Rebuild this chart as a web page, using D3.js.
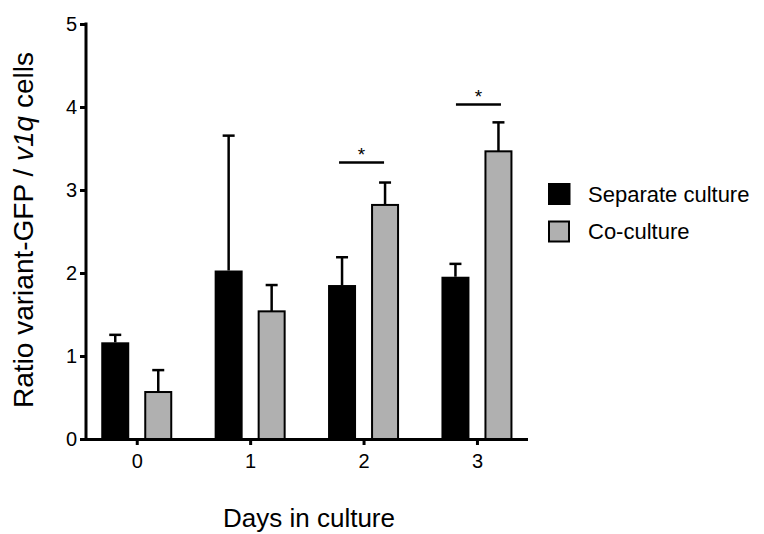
<!DOCTYPE html>
<html>
<head>
<meta charset="utf-8">
<script src="https://cdn.jsdelivr.net/npm/d3@7"></script>
<style>
  html, body { margin: 0; padding: 0; background: #fff; }
  svg { display: block; font-family: "Liberation Sans", Arial, sans-serif; }
</style>
</head>
<body>
<svg id="chart" width="764" height="534"></svg>
<script>
// ---- data ----
const days = ["0", "1", "2", "3"];
const seriesNames = ["Separate culture", "Co-culture"];
const separateValues = [1.165, 2.03, 1.855, 1.955];
const separateErrors = [0.09, 1.625, 0.335, 0.155];
const coValues = [0.566, 1.538, 2.82, 3.466];
const coErrors = [0.264, 0.317, 0.27, 0.349];
const yTicks = [0, 1, 2, 3, 4, 5];
const sigDays = ["2", "3"];
const sigLevels = [3.33, 4.03];
const sigLabels = ["*", "*"];

const colors = { "Separate culture": "#000000", "Co-culture": "#b0b0b0" };

// ---- build rows ----
const rows = [];
days.forEach((d, i) => {
  rows.push({ day: d, series: seriesNames[0], value: separateValues[i], err: separateErrors[i] });
  rows.push({ day: d, series: seriesNames[1], value: coValues[i], err: coErrors[i] });
});

const svg = d3.select("#chart");

// ---- scales ----
const y = d3.scaleLinear().domain([0, 5]).range([439, 24]);
const x = d3.scalePoint().domain(days).range([86, 527.7]).padding(0.4475);
const xSub = d3.scaleBand().domain(seriesNames).range([-35.5, 35.5]).paddingInner(0.349);

// ---- bars ----
const bars = svg.append("g");
rows.forEach(r => {
  const isGray = r.series === seriesNames[1];
  const x0 = x(r.day) + xSub(r.series);
  const w = xSub.bandwidth();
  bars.append("rect")
    .attr("x", isGray ? x0 + 1 : x0)
    .attr("y", y(r.value))
    .attr("width", isGray ? w - 2 : w)
    .attr("height", y(0) - y(r.value))
    .attr("fill", colors[r.series])
    .attr("stroke", isGray ? "#000" : "none")
    .attr("stroke-width", 2);
  // error bar (upper only)
  const cx = x0 + w / 2;
  bars.append("line")
    .attr("x1", cx).attr("x2", cx)
    .attr("y1", y(r.value)).attr("y2", y(r.value + r.err))
    .attr("stroke", "#000").attr("stroke-width", 2.5);
  bars.append("line")
    .attr("x1", cx - 6).attr("x2", cx + 6)
    .attr("y1", y(r.value + r.err)).attr("y2", y(r.value + r.err))
    .attr("stroke", "#000").attr("stroke-width", 2.5);
});

// ---- axes ----
const yAxis = d3.axisLeft(y).tickValues(yTicks).tickFormat(d3.format("d")).tickSize(6).tickPadding(3);
const gy = svg.append("g").attr("transform", "translate(86,0)").call(yAxis);
gy.select(".domain").remove();
gy.selectAll(".tick line").attr("stroke", "#000").attr("stroke-width", 3);
gy.selectAll(".tick text").attr("font-size", 20).attr("fill", "#000")
  .attr("font-family", "Liberation Sans, Arial, sans-serif");
svg.append("line").attr("x1", 86).attr("x2", 86).attr("y1", 22.5).attr("y2", 441)
  .attr("stroke", "#000").attr("stroke-width", 3);

const xAxis = d3.axisBottom(x).tickSize(6).tickPadding(9);
const gx = svg.append("g").attr("transform", "translate(0,439)").call(xAxis);
gx.select(".domain").remove();
gx.selectAll(".tick line").attr("stroke", "#000").attr("stroke-width", 3);
gx.selectAll(".tick text").attr("font-size", 20).attr("fill", "#000")
  .attr("font-family", "Liberation Sans, Arial, sans-serif");
svg.append("line").attr("x1", 84.5).attr("x2", 528).attr("y1", 439.5).attr("y2", 439.5)
  .attr("stroke", "#000").attr("stroke-width", 3);

// ---- significance markers ----
sigDays.forEach((d, i) => {
  const cx = x(d) + (i === 0 ? -2 : 1.5);
  const yy = y(sigLevels[i]);
  svg.append("line").attr("x1", cx - 22.5).attr("x2", cx + 22.5)
    .attr("y1", yy).attr("y2", yy)
    .attr("stroke", "#000").attr("stroke-width", 2.5);
  svg.append("text").attr("x", cx).attr("y", yy - 2)
    .attr("text-anchor", "middle").attr("font-size", 19).text(sigLabels[i]);
});

// ---- axis titles ----
const yTitle = svg.append("text")
  .attr("transform", "translate(33,230) rotate(-90)")
  .attr("text-anchor", "middle")
  .attr("font-size", 28);
yTitle.append("tspan").text("Ratio variant-GFP / ");
yTitle.append("tspan").attr("font-style", "italic").text("v1q");
yTitle.append("tspan").text(" cells");

svg.append("text").attr("x", 309).attr("y", 527)
  .attr("text-anchor", "middle").attr("font-size", 26).text("Days in culture");

// ---- legend ----
const legend = svg.append("g");
seriesNames.forEach((s, i) => {
  const ly = 183 + i * 37.5;
  const isGray = i === 1;
  legend.append("rect")
    .attr("x", isGray ? 549 : 548).attr("y", isGray ? ly + 1 : ly)
    .attr("width", isGray ? 20 : 22.5).attr("height", isGray ? 20 : 22)
    .attr("fill", colors[s])
    .attr("stroke", isGray ? "#000" : "none").attr("stroke-width", 2);
  legend.append("text").attr("x", 588).attr("y", ly + 11)
    .attr("dominant-baseline", "central").attr("font-size", 22).text(s);
});
</script>
</body>
</html>
